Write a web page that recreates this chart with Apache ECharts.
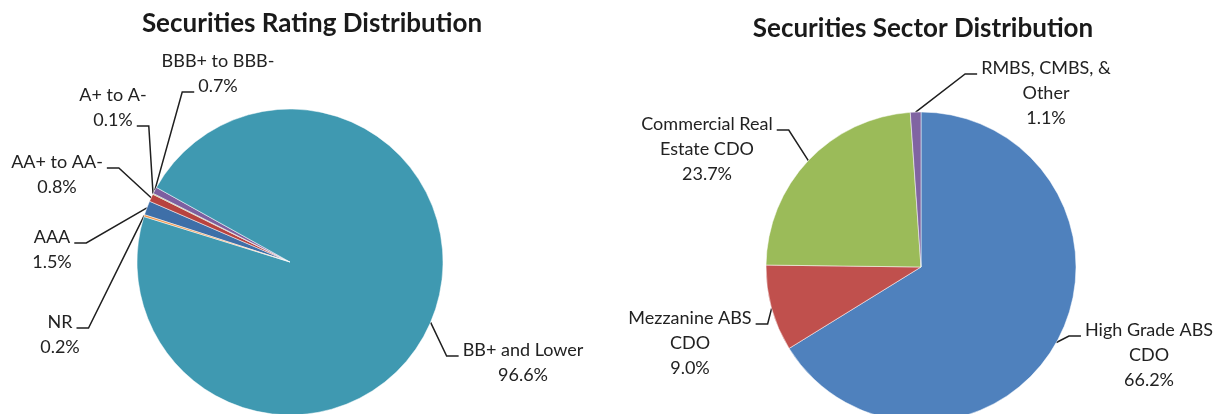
<!DOCTYPE html>
<html>
<head>
<meta charset="utf-8">
<script src="https://cdn.jsdelivr.net/npm/echarts@6/dist/echarts.min.js"></script>
<style>
  html, body { margin: 0; padding: 0; background: #fff; }
  #chart { width: 1217px; height: 414px; }
</style>
</head>
<body>
<div id="chart"></div>
<script>
// rating pie, in Excel slice order (clockwise)
const ratingNames = ['AAA', 'AA+ to AA-', 'A+ to A-', 'BBB+ to BBB-', 'BB+ and Lower', 'NR'];
const ratingValues = [1.5, 0.8, 0.1, 0.7, 96.6, 0.2];
const ratingColors = ['#3E6FA8', '#B8433F', '#9BBB59', '#7D5FA0', '#3F99B1', '#F39242'];

// sector pie
const sectorNames = ['High Grade ABS\nCDO', 'Mezzanine ABS\nCDO', 'Commercial Real\nEstate CDO', 'RMBS, CMBS, &\nOther'];
const sectorValues = [66.2, 9.0, 23.7, 1.1];
const sectorColors = ['#4F81BD', '#C0504D', '#9BBB59', '#8064A2'];

// label placement: [center x, first line y, line the leader hooks to, side of the text]
const ratingLabelAt = [
  [52, 237, 0, 'right'],
  [57, 162, 0, 'right'],
  [113, 95, 1, 'right'],
  [218, 61, 1, 'left'],
  [523, 350, 0, 'left'],
  [60, 322, 0, 'right']
];
const sectorLabelAt = [
  [1149, 330, 0, 'left'],
  [690, 318, 0, 'right'],
  [707, 124, 0, 'right'],
  [1046, 68, 0, 'left']
];

const FONT = 'Lato';
const FS = 18;
const LH = 25;

const measure = document.createElement('canvas').getContext('2d');
measure.font = FS + 'px ' + FONT;

const labelText = (p) => p.name + '\n' + p.value.toFixed(1) + '%';

const makeLayout = (spots) => (params) => {
  const [cx, cy, row, side] = spots[params.dataIndex];
  const lines = params.text.split('\n');
  const w = measure.measureText(lines[row]).width;
  const y = cy + row * LH + 6;
  const endX = side === 'right' ? cx + w / 2 + 4 : cx - w / 2 - 4;
  const bendX = side === 'right' ? endX + 12 : endX - 12;
  const pts = params.labelLinePoints;
  return {
    x: cx,
    y: cy - LH / 2,
    align: 'center',
    verticalAlign: 'top',
    labelLinePoints: [pts[0], [bendX, y], [endX, y]]
  };
};

const pieSeries = (names, values, colors, center, radius, startAngle, spots) => ({
  type: 'pie',
  center: center,
  radius: radius,
  startAngle: startAngle,
  clockwise: true,
  avoidLabelOverlap: false,
  data: names.map((n, i) => ({ name: n, value: values[i], itemStyle: { color: colors[i] } })),
  itemStyle: { borderColor: '#fff', borderWidth: 0.5 },
  label: {
    show: true,
    position: 'outside',
    formatter: labelText,
    fontFamily: FONT,
    fontSize: FS,
    lineHeight: LH,
    color: '#222'
  },
  labelLine: {
    show: true,
    length: 10,
    length2: 10,
    smooth: false,
    lineStyle: { color: '#1f1f1f', width: 1.5 }
  },
  labelLayout: makeLayout(spots),
  emphasis: { disabled: true }
});

const chart = echarts.init(document.getElementById('chart'));
chart.setOption({
  animation: false,
  title: [
    {
      text: 'Securities Rating Distribution',
      left: 312, top: 11, textAlign: 'center', padding: 0,
      textStyle: { fontFamily: FONT, fontWeight: 'bold', fontSize: 26, color: '#1a1a1a' }
    },
    {
      text: 'Securities Sector Distribution',
      left: 923, top: 16, textAlign: 'center', padding: 0,
      textStyle: { fontFamily: FONT, fontWeight: 'bold', fontSize: 26, color: '#1a1a1a' }
    }
  ],
  series: [
    pieSeries(ratingNames, ratingValues, ratingColors, [290, 262], 153, 162, ratingLabelAt),
    pieSeries(sectorNames, sectorValues, sectorColors, [921, 267], 155, 90, sectorLabelAt)
  ]
});
</script>
</body>
</html>
